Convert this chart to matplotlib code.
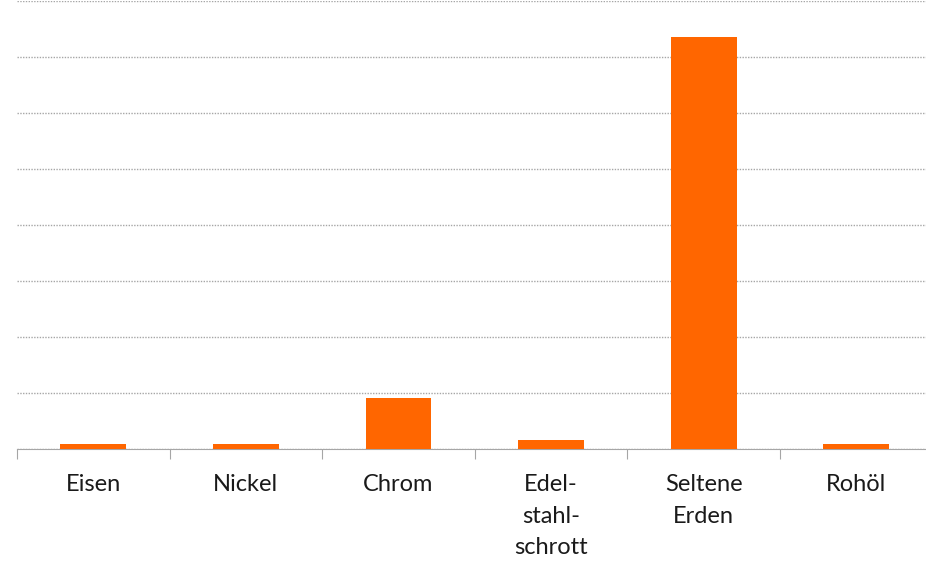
import numpy as np
import matplotlib
matplotlib.use('Agg')
import matplotlib.pyplot as plt
from matplotlib.ticker import FixedLocator, MultipleLocator

categories = ['Eisen', 'Nickel', 'Chrom', 'Edel-\nstahl-\nschrott', 'Seltene\nErden', 'Rohöl']
values = [0.09, 0.09, 0.91, 0.16, 7.36, 0.09]

plt.rcParams['font.family'] = ['Lato', 'DejaVu Sans']

W, H = 926, 561
fig = plt.figure(figsize=(W / 100, H / 100), dpi=100)
ax = fig.add_axes([17 / W, (H - 449) / H, 915.6 / W, 448 / H])

x = np.arange(len(categories))
ax.bar(x, values, width=0.43, color='#ff6600', zorder=3)

ax.set_xlim(-0.5, len(categories) - 0.5)
ax.set_ylim(0, 8)
ax.yaxis.set_major_locator(MultipleLocator(1))
ax.grid(axis='y', color='#a6a6a6', linestyle=(0, (1, 1)), linewidth=1.0, zorder=0)
ax.set_yticklabels([])
ax.tick_params(axis='y', length=0)

for s in ['left', 'right', 'top']:
    ax.spines[s].set_visible(False)
ax.spines['bottom'].set_color('#a6a6a6')
ax.spines['bottom'].set_linestyle((0, (1, 1)))

ax.xaxis.set_major_locator(FixedLocator(np.arange(-0.5, len(categories), 1)))
ax.xaxis.set_minor_locator(FixedLocator(x))
ax.tick_params(axis='x', which='major', length=7, color='#a6a6a6', labelbottom=False)
ax.tick_params(axis='x', which='minor', length=0, pad=18, labelsize=17)
ax.set_xticks(x, categories, minor=True)
for lbl in ax.get_xticklabels(minor=True):
    lbl.set_linespacing(1.62)
    lbl.set_color('#1a1a1a')

plt.savefig('out.png', dpi=100)
